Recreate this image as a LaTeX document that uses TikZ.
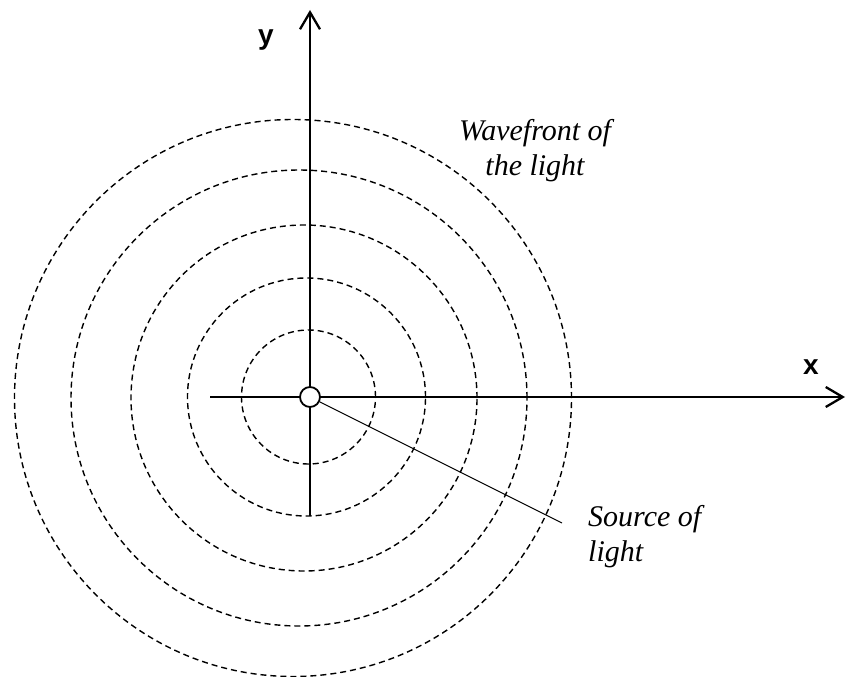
\documentclass[tikz,border=0pt]{standalone}
\usepackage{fontspec}
\setmainfont{Liberation Serif}[ItalicFont={Liberation Serif Italic}]
\setsansfont{Liberation Sans}
\usetikzlibrary{arrows.meta}
\begin{document}
\begin{tikzpicture}[x=1pt,y=-1pt,
  wave/.style={line width=1.4pt,dash pattern=on 6pt off 4pt},
  axis/.style={line width=2.3pt,-{Straight Barb[length=17pt,width=20pt]}},
  lbl/.style={font=\itshape\fontsize{30}{35}\selectfont,inner sep=0pt},
  axlbl/.style={font=\sffamily\bfseries\fontsize{28}{30}\selectfont,inner sep=0pt,anchor=base}]
\useasboundingbox (0,0) rectangle (846,677);
% wavefronts
\draw[wave] (308.5,397) circle (67pt);
\draw[wave] (306.5,397) circle (119pt);
\draw[wave] (304,398) circle (173pt);
\draw[wave] (299,398) circle (228pt);
\draw[wave] (293,398) circle (278.5pt);
% axes
\coordinate (xs) at (210,397);
\coordinate (xe) at (845,397);
\coordinate (ys) at (310,516);
\coordinate (ye) at (310,10);
\draw[axis] (xs) -- (xe);
\draw[axis] (ys) -- (ye);
\node[axlbl] (xl) at (811,374) {x};
\node[axlbl] (yl) at (266,45) {y};
% source
\node[circle,draw,fill=white,line width=1.8pt,minimum size=20pt,inner sep=0pt] (src) at (310,397) {};
\coordinate (ptr) at (562,523);
\draw[line width=1pt] (src) -- (ptr);
% labels
\node[lbl,align=center,anchor=north] (wf) at (535,119) {Wavefront of\\the light};
\node[lbl,align=left,anchor=north west] (sl) at (588,505) {Source of\\light};
\end{tikzpicture}
\end{document}
